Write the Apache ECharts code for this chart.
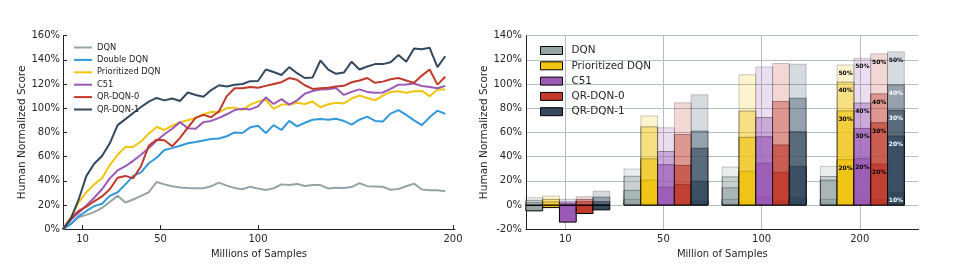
<!DOCTYPE html>
<html><head><meta charset="utf-8">
<script src="https://cdn.jsdelivr.net/npm/echarts@6/dist/echarts.min.js"></script>
<style>html,body{margin:0;padding:0;background:#fff}#c{width:969px;height:264px}</style>
</head><body><div id="c"></div>
<script>
// ---------- Left panel: median human-normalized score vs. samples ----------
const samples = [0,4,8,12,16,20,24,28,32,36,40,44,48,52,56,60,64,68,72,76,80,84,88,92,96,100,104,108,112,116,120,124,128,132,136,140,144,148,152,156,160,164,168,172,176,180,184,188,192,196];
const lineTicks = [10, 50, 100, 200];
const dqnLine = [0,4.5,9.8,11.8,14,17.5,22.5,27.5,22,24.5,27.5,30.5,39,37,35.5,34.5,34,33.8,33.8,35.5,38.5,36,34,33,35.1,33.5,32.4,33.8,37,36.5,37.4,35.6,36.5,36.4,33.6,34.2,34,34.8,38,35.5,35.3,35,32.5,33.2,35.5,37.6,32.8,32.2,32.2,31.4];
const doubleDqnLine = [0,4,10.5,15,19,21,27.5,30.5,37,44,47,54.5,59,65.5,67,69,71,72,73.3,74.5,75,76.8,80,79.5,84.2,85.5,79.5,86,82,89.5,85,88,90.5,91,90.5,91.3,89.5,86.5,90.5,93,89.5,89,95.5,98.5,94.5,90,86,92.5,98,95.3];
const prioritizedLine = [0,10,22,30.5,37,42,53,61.5,68,68,72.5,79,84.5,82,85.5,88.5,90,92,95,97,96.5,100,100.5,98.5,103,105.5,107,99.5,103,103,104.5,103.5,105.5,100.8,103.3,104.5,104,108,110.5,108.5,106.5,110.5,113.5,114,112.8,114,114.3,110,115.5,115.5];
const c51Line = [0,7.5,13.5,19.5,26,33,42,48.5,52,56.5,61.5,67,73,78.5,83,88.5,83.5,83,88.5,89.5,92,95,98.5,99.5,99,101.5,109,103.5,107.5,103,106.5,112,114.3,115.5,115.6,116.8,111,113.5,115.6,113.5,112.9,113,116,119.5,119.7,120.5,118.4,117.5,116.5,118.5];
const qr0Line = [0,9,15,18.5,23,27,33,42.5,44,42,52,69,74,73.5,68.5,75.5,84,92,94.5,92.5,97.5,110,116.5,116.5,117.5,117,118.5,120,121.5,125,123.5,119,116,116.5,117,118,118.5,121.5,123,125,121,122,124,125,123,121,127,132,119.5,126];
const qr1Line = [0,8.5,24.3,44,54,60.5,71,86,91,96,101,105.5,108.5,106.5,108,106,113,111,109.5,115,119,118,119.5,120,122.4,122.5,132,130,127.5,134,129,125,125.5,139.5,132,128.5,129.5,138.5,132,134.5,136.5,136.5,138,144,138.5,149.5,148.8,150,134,143];

// ---------- Right panel: percentiles (10..50) of human-normalized score ----------
const checkpoints = ['10', '50', '100', '200'];
const percentileNames = ['10%', '20%', '30%', '40%', '50%'];
// each row: [p10, p20, p30, p40, p50] for checkpoints 10, 50, 100, 200
const dqnBars = [[-4.9,-0.5,1.9,3.8,6.0],[1.1,4.6,12.0,23.7,29.7],[1.4,4.6,14.2,23.2,31.4],[1.5,4.6,20.5,23.5,31.9]];
const prioritizedBars = [[-2.2,0.3,2.5,4.6,7.4],[1.4,20.5,38.2,64.6,73.6],[2.7,27.8,55.9,77.7,107.7],[2.5,37.4,77.8,101.6,115.8]];
const c51Bars = [[-14.2,-0.5,1.0,2.5,4.6],[0.5,14.7,33.3,44.2,63.8],[6.8,34.6,56.4,72.3,114.2],[4.0,38.3,63.3,84.3,121.2]];
const qr0Bars = [[-7.1,-0.5,2.7,4.6,6.8],[0.5,16.9,32.7,58.3,84.5],[3.3,27.0,49.6,85.6,117.0],[4.5,33.8,68.0,91.9,125.0]];
const qr1Bars = [[-4.1,0.5,2.7,6.5,11.4],[3.3,19.6,46.9,61.1,91.1],[6.0,31.9,60.5,88.3,116.4],[10.4,57.0,78.3,99.3,126.7]];

const FONT = 'DejaVu Sans';
const TXT = '#262626';
const COL = {dqn:'#95a5a6', ddqn:'#3498db', pri:'#f1c40f', c51:'#9b59b6', qr0:'#c0392b', qr1:'#34495e'};
const ALPHA = [1.0, 0.8, 0.6, 0.4, 0.2];

const slotCount = 21;
const slots = Array.from({length: slotCount}, (_, i) => String(i));
const slotOf = k => 2 + 5 * k;
const slotLabel = i => { const k = (i - 2) / 5; return (Number.isInteger(k) && k >= 0 && k < checkpoints.length) ? checkpoints[k] : ''; };
const isTickSlot = i => slotLabel(i) !== '';

function lineSeries(name, color, ys) {
  return {
    type: 'line', name, xAxisIndex: 0, yAxisIndex: 0, showSymbol: false, symbol: 'none',
    color, lineStyle: {color, width: 2}, animation: false,
    data: samples.map((x, i) => [x, ys[i]])
  };
}

function barSeries(name, color, rows, order, labelColors, labelled) {
  return {
    type: 'custom', name, xAxisIndex: 1, yAxisIndex: 1, animation: false,
    itemStyle: {color, borderColor: '#000', borderWidth: 1},
    encode: {x: 0, y: [1, 2, 3, 4, 5]},
    data: rows.map((r, k) => [slotOf(k), ...r]),
    renderItem(params, api) {
      const x = api.value(0);
      const unit = api.size([1, 0])[0];
      const bw = unit * 0.855;
      const base = api.coord([x, 0]);
      const cx = base[0] + unit * 0.13 + (order - 2) * bw;
      const children = [];
      for (let j = 0; j < 5; j++) {
        const v = api.value(j + 1);
        const top = api.coord([x, v])[1];
        children.push({
          type: 'rect',
          shape: {x: cx - bw / 2, y: Math.min(top, base[1]), width: bw, height: Math.abs(base[1] - top)},
          style: {fill: color, stroke: '#000', lineWidth: 1, opacity: ALPHA[j]}
        });
      }
      if (labelled && checkpoints[params.dataIndex] === '200') {
        for (let j = 0; j < 5; j++) {
          const v = api.value(j + 1);
          if (v < 10) continue;
          const top = api.coord([x, v])[1];
          children.push({
            type: 'text', z2: 10,
            style: {text: percentileNames[j], x: cx, y: top + 8.5, align: 'center', verticalAlign: 'middle',
                    font: 'bold 6px "' + FONT + '"', fill: labelColors[j]}
          });
        }
      }
      return {type: 'group', children};
    }
  };
}

const chart = echarts.init(document.getElementById('c'), null, {renderer: 'canvas'});
const axisLineStyle = {color: '#222', width: 1};
const gridLine = {show: true, lineStyle: {color: '#b5bdbd', width: 1}};
const dark = ['#000', '#000', '#000', '#000', '#000'];
const light = ['#fff', '#fff', '#fff', '#fff', '#111'];

chart.setOption({
  animation: false,
  textStyle: {fontFamily: FONT},
  grid: [
    {left: 63, top: 35.7, width: 392, height: 195.6},
    {left: 526, top: 35.7, width: 392.7, height: 195.6}
  ],
  xAxis: [
    {type: 'value', gridIndex: 0, min: 0, max: 201,
     axisLine: {lineStyle: axisLineStyle}, splitLine: {show: false},
     axisTick: {inside: true, length: 4, customValues: lineTicks, lineStyle: axisLineStyle},
     axisLabel: {customValues: lineTicks, fontSize: 10, color: TXT, margin: 5, fontFamily: FONT},
     name: 'Millions of Samples', nameLocation: 'middle', nameGap: 13,
     nameTextStyle: {fontSize: 10, color: TXT, fontFamily: FONT}},
    {type: 'category', gridIndex: 1, data: slots, boundaryGap: false,
     axisLine: {onZero: false, lineStyle: axisLineStyle},
     axisTick: {show: false},
     axisLabel: {interval: (i) => isTickSlot(i), formatter: (v, i) => slotLabel(Number(v)), fontSize: 10, color: TXT, margin: 5, fontFamily: FONT},
     splitLine: {show: true, interval: (i) => isTickSlot(i), lineStyle: {color: '#b5bdbd', width: 1}},
     name: 'Million of Samples', nameLocation: 'middle', nameGap: 13,
     nameTextStyle: {fontSize: 10, color: TXT, fontFamily: FONT}}
  ],
  yAxis: [
    {type: 'value', gridIndex: 0, min: 0, max: 160, interval: 20,
     axisLine: {show: true, lineStyle: axisLineStyle}, splitLine: {show: false},
     axisTick: {show: true, inside: true, length: 4, lineStyle: axisLineStyle},
     axisLabel: {formatter: v => v + '%', fontSize: 10, color: TXT, margin: 3, fontFamily: FONT},
     name: 'Human Normalized Score', nameLocation: 'middle', nameGap: 35,
     nameTextStyle: {fontSize: 10.5, color: TXT, fontFamily: FONT}},
    {type: 'value', gridIndex: 1, min: -20, max: 140, interval: 20,
     axisLine: {show: true, lineStyle: axisLineStyle}, splitLine: gridLine,
     axisTick: {show: false},
     axisLabel: {formatter: v => v + '%', fontSize: 10, color: TXT, margin: 4, fontFamily: FONT},
     name: 'Human Normalized Score', nameLocation: 'middle', nameGap: 33,
     nameTextStyle: {fontSize: 10.5, color: TXT, fontFamily: FONT}}
  ],
  legend: [
    {orient: 'vertical', left: 69, top: 37.5, itemWidth: 18, itemHeight: 2, itemGap: 2.4, icon: 'rect',
     textStyle: {fontSize: 8.3, color: TXT, lineHeight: 10, fontFamily: FONT},
     data: [
       {name: 'DQN', itemStyle: {color: COL.dqn}},
       {name: 'Double DQN', itemStyle: {color: COL.ddqn}},
       {name: 'Prioritized DQN', itemStyle: {color: COL.pri}},
       {name: 'C51', itemStyle: {color: COL.c51}},
       {name: 'QR-DQN-0', itemStyle: {color: COL.qr0}},
       {name: 'QR-DQN-1', itemStyle: {color: COL.qr1}}
     ], selectedMode: false},
    {orient: 'vertical', left: 535, top: 39.5, itemWidth: 22, itemHeight: 8, itemGap: 3.3, icon: 'rect',
     textStyle: {fontSize: 10.4, color: TXT, lineHeight: 12, fontFamily: FONT, padding: [0, 0, 0, 4]},
     data: [
       {name: 'DQN', itemStyle: {color: COL.dqn, borderColor: '#000', borderWidth: 1}},
       {name: 'Prioritized DQN', itemStyle: {color: COL.pri, borderColor: '#000', borderWidth: 1}},
       {name: 'C51', itemStyle: {color: COL.c51, borderColor: '#000', borderWidth: 1}},
       {name: 'QR-DQN-0', itemStyle: {color: COL.qr0, borderColor: '#000', borderWidth: 1}},
       {name: 'QR-DQN-1', itemStyle: {color: COL.qr1, borderColor: '#000', borderWidth: 1}}
     ], selectedMode: false}
  ],
  series: [
    lineSeries('DQN', COL.dqn, dqnLine),
    lineSeries('Double DQN', COL.ddqn, doubleDqnLine),
    lineSeries('Prioritized DQN', COL.pri, prioritizedLine),
    lineSeries('C51', COL.c51, c51Line),
    lineSeries('QR-DQN-0', COL.qr0, qr0Line),
    lineSeries('QR-DQN-1', COL.qr1, qr1Line),
    barSeries('DQN', COL.dqn, dqnBars, 0, dark, false),
    barSeries('Prioritized DQN', COL.pri, prioritizedBars, 1, dark, true),
    barSeries('C51', COL.c51, c51Bars, 2, dark, true),
    barSeries('QR-DQN-0', COL.qr0, qr0Bars, 3, dark, true),
    barSeries('QR-DQN-1', COL.qr1, qr1Bars, 4, light, true)
  ]
});
</script></body></html>
